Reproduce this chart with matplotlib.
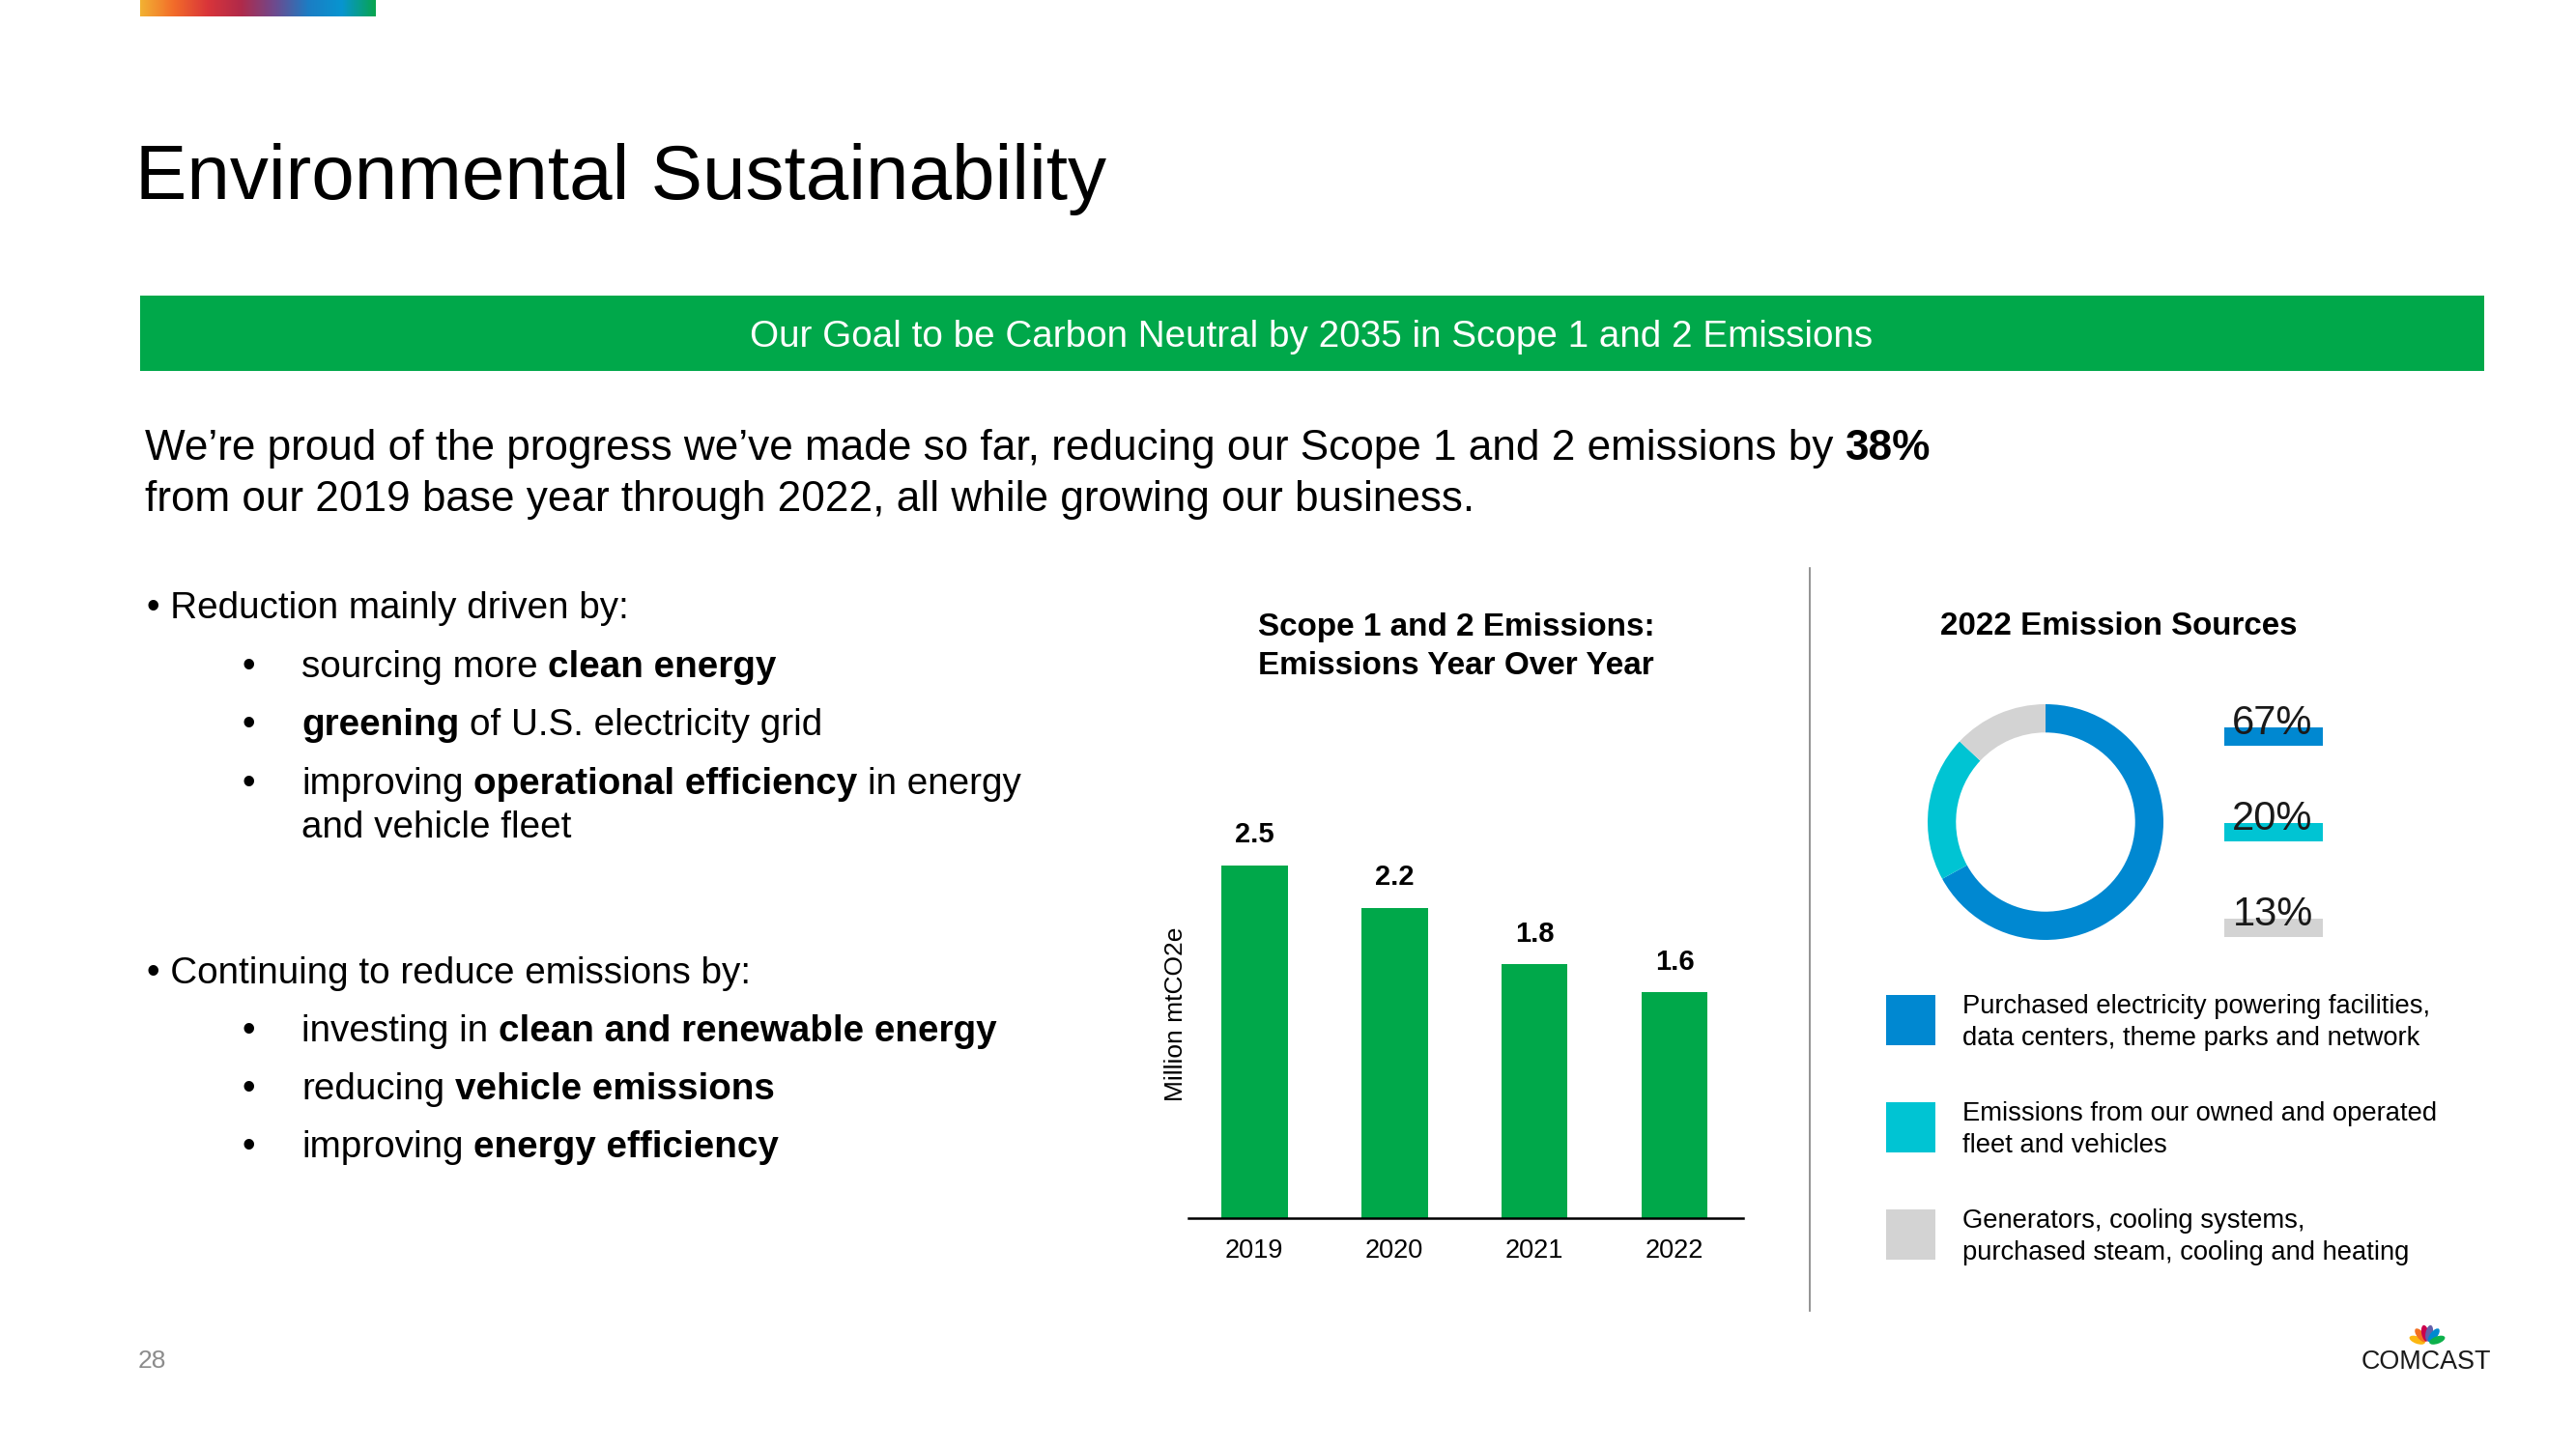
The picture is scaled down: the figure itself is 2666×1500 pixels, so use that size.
import numpy as np
import matplotlib
matplotlib.use('Agg')
import matplotlib.pyplot as plt
from matplotlib.patches import Rectangle, Ellipse
from matplotlib.colors import LinearSegmentedColormap

# chart data
years = ['2019', '2020', '2021', '2022']
emissions = [2.5, 2.2, 1.8, 1.6]  # million mtCO2e

source_shares = [67, 20, 13]
source_colors = ['#0088D1', '#00C4D3', '#D3D3D3']
source_labels = [
    'Purchased electricity powering facilities,\ndata centers, theme parks and network',
    'Emissions from our owned and operated\nfleet and vehicles',
    'Generators, cooling systems,\npurchased steam, cooling and heating',
]

GREEN = '#00A84A'

plt.rcParams['font.family'] = ['Liberation Sans', 'DejaVu Sans']

W, H = 2666, 1500
fig = plt.figure(figsize=(W / 100, H / 100), dpi=100)

# overlay axes in pixel units (y down) for the slide furniture
ov = fig.add_axes([0, 0, 1, 1])
ov.axis('off')
r = fig.canvas.get_renderer()


def text_w(s, size, weight='normal'):
    t = ov.text(0, 0, s, fontsize=size, fontweight=weight)
    w = t.get_window_extent(r).width
    t.remove()
    return w


def fit(s, width, weight='normal'):
    return 10 * width / text_w(s, 10, weight)


def rich(x, y, parts, size, **kw):
    gap = text_w('a a', size) - text_w('aa', size)
    for s, bold in parts:
        wt = 'bold' if bold else 'normal'
        ov.text(x, y, s, fontsize=size, fontweight=wt, va='baseline', ha='left', **kw)
        x += text_w(s, size, wt) + gap


# gradient strip top-left
grad = LinearSegmentedColormap.from_list('strip', ['#F2B233', '#F26B2A', '#D9353A', '#B02A4A',
                                                    '#6E4A8E', '#1C7DC4', '#0795D0', '#08A54F'])
ov.imshow(np.linspace(0, 1, 256)[None, :], cmap=grad, extent=[145, 389, 17, 0], aspect='auto')

# title
ov.text(140, 206, 'Environmental Sustainability', fontsize=fit('Environmental Sustainability', 1009),
        va='baseline', ha='left')

# green banner
ov.add_patch(Rectangle((145, 306), 2426, 78, color=GREEN, lw=0))
banner = 'Our Goal to be Carbon Neutral by 2035 in Scope 1 and 2 Emissions'
ov.text(1357, 359, banner, fontsize=fit(banner, 1163), color='white', ha='center', va='baseline')

# intro paragraph
line1 = [('We’re proud of the progress we’ve made so far, reducing our Scope 1 and 2 emissions by', False),
         ('38%', True)]
sz1 = 10 * 1855 / (text_w(line1[0][0] + ' ', 10) + text_w('38%', 10, 'bold'))
rich(150, 476, line1, sz1)
line2 = 'from our 2019 base year through 2022, all while growing our business.'
ov.text(150, 529, line2, fontsize=fit(line2, 1384), va='baseline', ha='left')

# bullets
bsz = fit('• Reduction mainly driven by:', 501)
ov.text(152, 640, '• Reduction mainly driven by:', fontsize=bsz, va='baseline')
ov.text(152, 1018, '• Continuing to reduce emissions by:', fontsize=bsz, va='baseline')
sub = [
    (701, [('sourcing more', False), ('clean energy', True)], True),
    (761, [('greening', True), ('of U.S. electricity grid', False)], True),
    (822, [('improving', False), ('operational efficiency', True), ('in energy', False)], True),
    (867, [('and vehicle fleet', False)], False),
    (1078, [('investing in', False), ('clean and renewable energy', True)], True),
    (1138, [('reducing', False), ('vehicle emissions', True)], True),
    (1198, [('improving', False), ('energy efficiency', True)], True),
]
for y, parts, dot in sub:
    if dot:
        ov.text(250, y, '•', fontsize=bsz, va='baseline')
    rich(312, y, parts, bsz)

# bar chart
ax = fig.add_axes([1230 / W, 1 - 1261 / H, (1804 - 1230) / W, 438 / H])
ax.patch.set_alpha(0)
xpos = np.arange(len(years))
ax.bar(xpos, emissions, width=0.475, color=GREEN)
ax.set_xlim(-0.47, 3.49)
ax.set_ylim(0, 3.0)
for s in ['top', 'right', 'left']:
    ax.spines[s].set_visible(False)
ax.spines['bottom'].set_linewidth(1.8)
ax.set_yticks([])
ax.set_xticks(xpos, years)
ax.tick_params(axis='x', length=0, pad=15, labelsize=19.5)
for xi, v in zip(xpos, emissions):
    ax.annotate(f'{v:.1f}', (xi, v), xytext=(0, 17), textcoords='offset points',
                ha='center', va='baseline', fontsize=21, fontweight='bold')

t1 = 'Scope 1 and 2 Emissions:'
t2 = 'Emissions Year Over Year'
tsz = fit(t2, 410, 'bold')
ov.text(1507, 658, t1, fontsize=tsz, fontweight='bold', ha='center', va='baseline')
ov.text(1507, 698, t2, fontsize=tsz, fontweight='bold', ha='center', va='baseline')
ov.text(1217, 1050, 'Million mtCO2e', fontsize=19, rotation=90, ha='center', va='center')

# divider
ov.plot([1873, 1873], [588, 1357], color='#808080', lw=1.2)

# donut
ov.text(2193, 657, '2022 Emission Sources', fontsize=fit('2022 Emission Sources', 369, 'bold'),
        fontweight='bold', ha='center', va='baseline')
dax = fig.add_axes([(2117 - 122) / W, 1 - (851 + 122) / H, 244 / W, 244 / H])
dax.pie(source_shares, colors=source_colors, startangle=90, counterclock=False,
        wedgeprops=dict(width=0.24, edgecolor='none'))
dax.set_xlim(-1, 1)
dax.set_ylim(-1, 1)

for i, (v, c) in enumerate(zip(source_shares, source_colors)):
    top = 753 + i * 99
    ov.add_patch(Rectangle((2302, top), 102, 19, color=c, lw=0))
    ov.text(2352, top + 7, f'{v}%', fontsize=30, color='#1a1a1a', ha='center', va='baseline')

# legend
lsz = fit('Emissions from our owned and operated', 493)
for i, (lab, c) in enumerate(zip(source_labels, source_colors)):
    top = 1030 + i * 111
    ov.add_patch(Rectangle((1952, top), 51, 52, color=c, lw=0))
    for j, ln in enumerate(lab.split('\n')):
        ov.text(2031, top + 19 + j * 33, ln, fontsize=lsz, va='baseline')

# footer
ov.text(143, 1416, '28', fontsize=19, color='#8c8c8c', va='baseline')
ov.text(2511, 1417, 'COMCAST', fontsize=19.4, color='#1a1a1a', ha='center', va='baseline')
feathers = ['#FCB711', '#F37021', '#CC004C', '#6460AA', '#0089D0', '#0DB14B']
bx, by = 2512, 1391
for a, c in zip([160, 128, 101, 79, 52, 20], feathers):
    rad = np.deg2rad(a)
    ov.add_patch(Ellipse((bx + 11 * np.cos(rad), by - 11 * np.sin(rad)), 17, 7.5, angle=-a, color=c, lw=0))

ov.set_xlim(0, W)
ov.set_ylim(H, 0)

fig.savefig('out.png', dpi=100, facecolor='white')
